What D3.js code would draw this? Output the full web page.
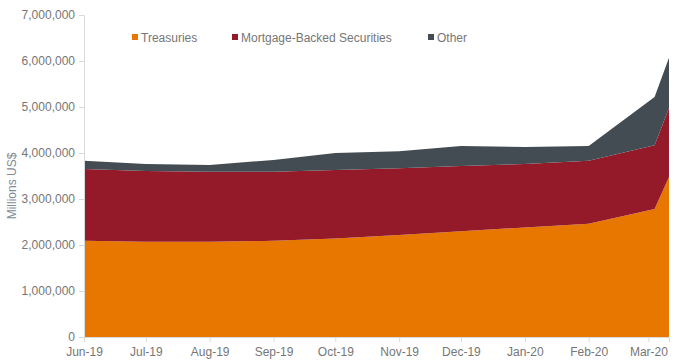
<!DOCTYPE html>
<html>
<head>
<meta charset="utf-8">
<script src="https://cdn.jsdelivr.net/npm/d3@7"></script>
<style>
  body { margin: 0; background: #fff; }
  svg { font-family: "Liberation Sans", Arial, sans-serif; }
  .axis text { fill: #767676; font-size: 12px; }
  .axis path, .axis line { stroke: #d9d9d9; }
</style>
</head>
<body>
<svg id="chart" width="680" height="364"></svg>
<script>
// stacked area of holdings, millions US$
var dates = ["2019-06-01", "2019-07-01", "2019-08-01", "2019-09-01", "2019-10-01", "2019-11-01",
  "2019-12-01", "2020-01-01", "2020-02-01", "2020-03-04", "2020-03-11"];
var treasuries = [2090000, 2070000, 2070000, 2090000, 2140000, 2220000, 2300000, 2380000, 2460000, 2780000, 3480000];
var mbs = [1560000, 1540000, 1520000, 1500000, 1490000, 1450000, 1420000, 1380000, 1370000, 1390000, 1500000];
var other = [180000, 150000, 150000, 260000, 370000, 370000, 430000, 370000, 320000, 1050000, 1090000];

var seriesNames = ["Treasuries", "Mortgage-Backed Securities", "Other"];
var colors = ["#e87700", "#941a29", "#434c53"];
var yTicks = [0, 1000000, 2000000, 3000000, 4000000, 5000000, 6000000, 7000000];
var tickMonths = ["2019-06-01", "2019-07-01", "2019-08-01", "2019-09-01", "2019-10-01", "2019-11-01",
  "2019-12-01", "2020-01-01", "2020-02-01", "2020-03-01"];

var parse = d3.timeParse("%Y-%m-%d");
var rows = dates.map(function (d, i) {
  return { date: parse(d), Treasuries: treasuries[i], "Mortgage-Backed Securities": mbs[i], Other: other[i] };
});

var margin = { top: 15, right: 11, bottom: 27, left: 84 };
var width = 680 - margin.left - margin.right;
var height = 364 - margin.top - margin.bottom;

var svg = d3.select("#chart");
var g = svg.append("g").attr("transform", "translate(" + margin.left + "," + margin.top + ")");

var x = d3.scaleTime()
  .domain([rows[0].date, rows[rows.length - 1].date])
  .range([0, width]);
var y = d3.scaleLinear().domain([0, 7000000]).range([height, 0]);

var stack = d3.stack().keys(seriesNames);
var layers = stack(rows);

var area = d3.area()
  .x(function (d) { return x(d.data.date); })
  .y0(function (d) { return y(d[0]); })
  .y1(function (d) { return y(d[1]); });

g.selectAll(".layer")
  .data(layers)
  .enter().append("path")
  .attr("class", "layer")
  .attr("fill", function (d, i) { return colors[i]; })
  .attr("d", area);

// axes
var yAxis = d3.axisLeft(y).tickValues(yTicks).tickSize(5).tickPadding(4)
  .tickFormat(d3.format(","));
g.append("g").attr("class", "axis y-axis").call(yAxis);

var xAxis = d3.axisBottom(x).tickValues(tickMonths.map(parse)).tickSize(5).tickPadding(4)
  .tickFormat(d3.timeFormat("%b-%y"));
g.append("g").attr("class", "axis x-axis")
  .attr("transform", "translate(0," + height + ")")
  .call(xAxis);
g.selectAll(".x-axis text").attr("y", 10);

g.selectAll(".axis .domain").attr("stroke", "#d9d9d9");

// axis title
svg.append("text")
  .attr("transform", "translate(16," + (margin.top + height / 2 + 10) + ") rotate(-90)")
  .attr("text-anchor", "middle")
  .attr("fill", "#808b96")
  .style("font-size", "12px")
  .text("Millions US$");

// legend
var legendX = [132, 232, 428];
var legend = svg.append("g").attr("class", "legend");
seriesNames.forEach(function (name, i) {
  legend.append("rect")
    .attr("x", legendX[i]).attr("y", 34)
    .attr("width", 6).attr("height", 6)
    .attr("fill", colors[i]);
  legend.append("text")
    .attr("x", legendX[i] + 9).attr("y", 41.5)
    .attr("fill", "#767676")
    .style("font-size", "12px")
    .text(name);
});
</script>
</body>
</html>
